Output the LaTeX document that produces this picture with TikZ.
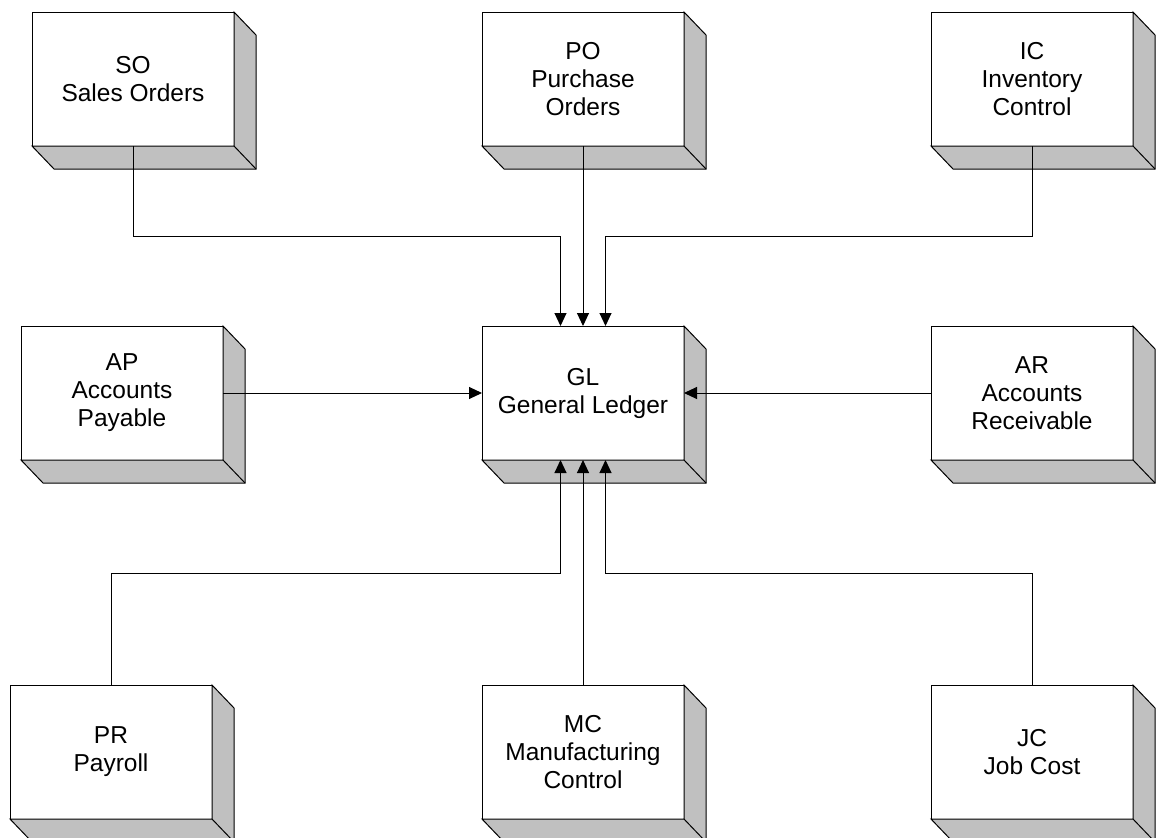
\documentclass[tikz,border=0pt]{standalone}
\usepackage{fontspec}
\setmainfont{Liberation Sans}
\usetikzlibrary{arrows.meta}
\definecolor{shadegray}{HTML}{C0C0C0}
\tikzset{
  module/.style={draw=black, line width=1pt, fill=white, rectangle, minimum width=202pt, minimum height=134pt,
    inner sep=0pt, outer sep=0pt, align=center, font=\fontsize{24.5pt}{28pt}\selectfont},
  shadeface/.style={draw=black, line width=1pt, fill=shadegray, line join=miter},
  conn/.style={draw=black, line width=1pt, -{Triangle[length=13pt,width=12pt]}},
  plain/.style={draw=black, line width=1pt}
}
\begin{document}
\begin{tikzpicture}[x=1pt,y=-1pt]
\useasboundingbox (0,0) rectangle (1160,838);
\node[module] (so) at (133,79) {SO\\Sales Orders};
\node[module] (po) at (583,79) {PO\\Purchase\\Orders};
\node[module] (ic) at (1032,79) {IC\\Inventory\\Control};
\node[module] (ap) at (122,393) {AP\\Accounts\\Payable};
\node[module] (gl) at (583,393) {GL\\General Ledger};
\node[module] (ar) at (1032,393) {AR\\Accounts\\Receivable};
\node[module] (pr) at (111,752) {PR\\Payroll};
\node[module] (mc) at (583,752) {MC\\Manufacturing\\Control};
\node[module] (jc) at (1032,752) {JC\\Job Cost};
\foreach \n in {so,po,ic,ap,gl,ar,pr,mc,jc}{
  \filldraw[shadeface] (\n.north east) -- ([shift={(22,23)}]\n.north east) -- ([shift={(22,23)}]\n.south east)
     -- ([shift={(22,23)}]\n.south west) -- (\n.south west) -- (\n.south east) -- cycle;
  \draw[plain] (\n.south east) -- ([shift={(22,23)}]\n.south east);
}
\draw[conn] (so.south) -- ++(0,90) -| ([xshift=-22.5pt]gl.north);
\draw[conn] (po.south) -- (gl.north);
\draw[conn] (ic.south) -- ++(0,90) -| ([xshift=22.5pt]gl.north);
\draw[conn] (ap.east) -- (gl.west);
\draw[conn] (ar.west) -- (gl.east);
\draw[conn] (pr.north) -- ++(0,-112) -| ([xshift=-22.5pt]gl.south);
\draw[conn] (mc.north) -- (gl.south);
\draw[conn] (jc.north) -- ++(0,-112) -| ([xshift=22.5pt]gl.south);
\end{tikzpicture}
\end{document}
